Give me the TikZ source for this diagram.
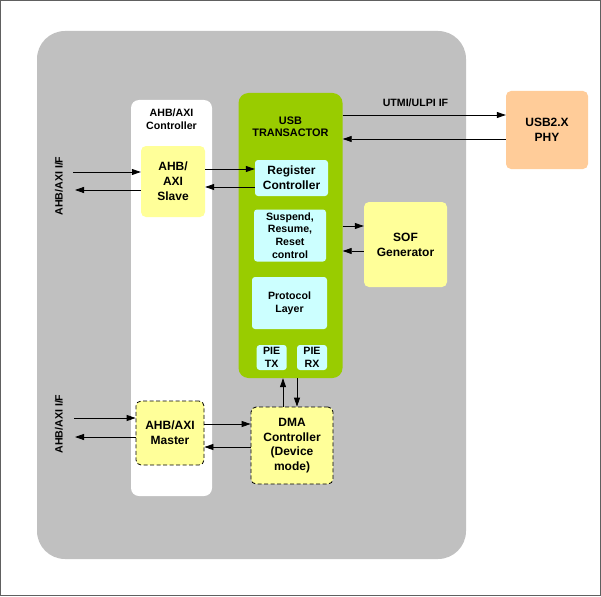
\documentclass[tikz,border=0pt]{standalone}
\usepackage{fontspec}
\setmainfont{Liberation Sans}
\usetikzlibrary{arrows.meta}
\definecolor{bggray}{HTML}{C0C0C0}
\definecolor{ylw}{HTML}{FFFF99}
\definecolor{cyn}{HTML}{CCFFFF}
\definecolor{grn}{HTML}{99CC00}
\definecolor{org}{HTML}{FFCC99}
\definecolor{frame}{HTML}{606060}
\begin{document}
\begin{tikzpicture}[x=1pt,y=-1pt,
  box/.style={draw=none,inner sep=0pt,align=center,rounded corners=5pt},
  bigf/.style={font=\fontsize{12}{15}\selectfont\bfseries},
  midf/.style={font=\fontsize{12}{14.5}\selectfont\bfseries},
  smf/.style={font=\fontsize{10.6}{12.7}\selectfont\bfseries},
  ybox/.style={box,fill=ylw},
  cbox/.style={box,fill=cyn,rounded corners=3pt},
  dbox/.style={box,fill=ylw,draw=black,line width=0.8pt,dash pattern=on 4pt off 2.5pt},
  arr/.style={line width=0.8pt,-{Triangle[length=9pt,width=6pt]}}
]
\useasboundingbox (0,0) rectangle (601,596);
\draw[frame,line width=1.4pt] (0.7,0.7) rectangle (600.3,595.3);
\node[box,fill=bggray,minimum width=429pt,minimum height=528pt,rounded corners=28pt] (bg) at (251.5,295) {};
\node[box,fill=white,minimum width=81pt,minimum height=396pt,rounded corners=8pt] (col) at (171.5,298) {};
\node[smf,align=center,inner sep=0pt] (colt) at (171.5,119) {AHB/AXI\\Controller};
\node[ybox,bigf,minimum width=64pt,minimum height=71pt] (slave) at (173,181.5) {AHB/\\AXI\\Slave};
\node[box,fill=grn,minimum width=104pt,minimum height=285pt,rounded corners=10pt] (usb) at (290.5,235.5) {};
\node[font=\fontsize{10.9}{12.4}\selectfont\bfseries,align=center,inner sep=0pt] (usbt) at (290.5,127) {USB\\TRANSACTOR};
\node[cbox,bigf,minimum width=73pt,minimum height=36pt] (reg) at (291.5,178) {Register\\Controller};
\node[cbox,smf,minimum width=72pt,minimum height=52pt] (susp) at (290,235.5) {Suspend,\\Resume,\\Reset\\control};
\node[cbox,smf,minimum width=75pt,minimum height=52pt] (proto) at (289.5,303) {Protocol\\Layer};
\node[cbox,smf,minimum width=30pt,minimum height=25pt] (pietx) at (271.7,357.5) {PIE\\TX};
\node[cbox,smf,minimum width=30pt,minimum height=25pt] (pierx) at (312,357.5) {PIE\\RX};
\node[ybox,bigf,minimum width=83pt,minimum height=85pt] (sof) at (405.5,244.5) {SOF\\Generator};
\node[box,fill=org,bigf,minimum width=82pt,minimum height=78pt] (phy) at (547,130) {USB2.X\\PHY};
\node[smf,inner sep=0pt] (utmi) at (415.5,103) {UTMI/ULPI IF};
\node[dbox,bigf,minimum width=68pt,minimum height=64pt] (master) at (170,433) {AHB/AXI\\Master};
\node[dbox,midf,minimum width=82pt,minimum height=77pt] (dma) at (292,445.5) {DMA\\Controller\\(Device\\mode)};
\node[smf,rotate=90,inner sep=0pt] (lbl1) at (59,186) {AHB/AXI I/F};
\node[smf,rotate=90,inner sep=0pt] (lbl2) at (59,424) {AHB/AXI I/F};
% connectors
\draw[arr] (usb.east |- 0,115) -- (phy.west |- 0,115);
\draw[arr] (phy.west |- 0,139) -- (usb.east |- 0,139);
\coordinate (in1) at (73,172);
\coordinate (out1) at (75,190);
\draw[arr] (in1) -- (slave.west |- in1);
\draw[arr] (slave.west |- out1) -- (out1);
\draw[arr] (slave.east |- 0,169) -- (reg.west |- 0,169);
\draw[arr] (reg.west |- 0,187) -- (slave.east |- 0,187);
\draw[arr] (usb.east |- 0,226) -- (sof.west |- 0,226);
\draw[arr] (sof.west |- 0,251) -- (usb.east |- 0,251);
\coordinate (in2) at (74,418);
\coordinate (out2) at (75,437);
\draw[arr] (in2) -- (master.west |- in2);
\draw[arr] (master.west |- out2) -- (out2);
\draw[arr] (master.east |- 0,424) -- (dma.west |- 0,424);
\draw[arr] (dma.west |- 0,447) -- (master.east |- 0,447);
\draw[arr] (dma.north -| 283,0) -- (usb.south -| 283,0);
\draw[arr] (usb.south -| 297,0) -- (dma.north -| 297,0);
\end{tikzpicture}
\end{document}
